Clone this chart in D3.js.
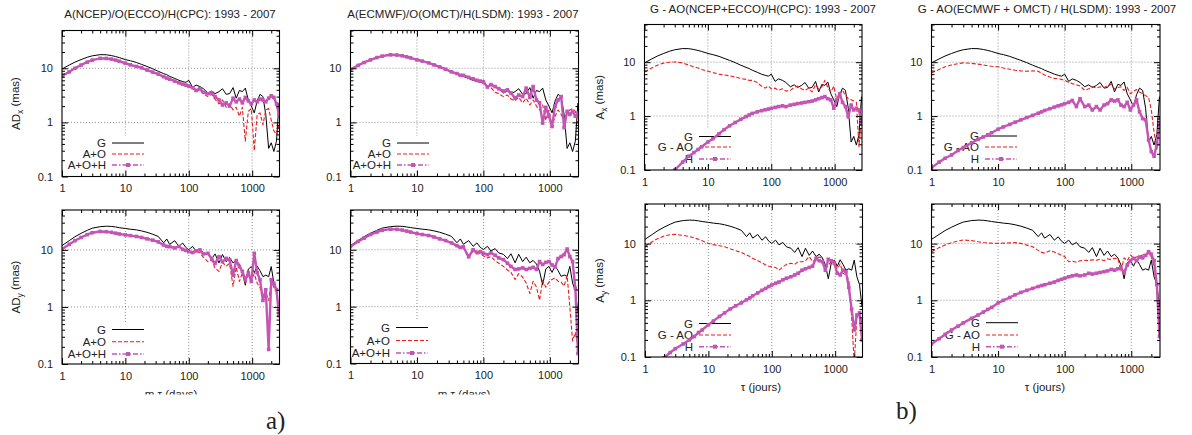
<!DOCTYPE html>
<html><head><meta charset="utf-8">
<script src="https://cdn.jsdelivr.net/npm/d3@7"></script>
<style>
body{margin:0;background:#fff}
svg{display:block}
text{font-family:"Liberation Sans",Arial,Helvetica,sans-serif;fill:#222}
</style>
</head><body>
<svg id="c" width="1192" height="435"></svg>
<script>
// ---------- DATA ----------
const tau = [1,1.3,1.6,2,2.5,3,4,5,6,7,8,10,12,15,18,22,27,33,40,45,50,60,70,80,90,100,115,130,150,170,200,230,260,300,340,390,440,500,560,630,700,780,870,970,1080,1200,1330,1480,1640,1820,2000,2200,2420,2650];
const xTicks = [1,10,100,1000];
const yTicks = [0.1,1,10];

const Gx = [9.7,11.5,13,14.5,16,17,17.9,17.8,17.2,16.5,
 15.8,14.5,13.8,12.8,11.8,10.8,9.8,8.8,8.0,7.6,
 7.1,6.5,6.0,5.7,5.5,6.0,4.4,4.9,4.6,4.2,
 3.5,3.8,3.4,3.7,4.2,3.3,3.4,4.4,2.8,3.9,
 3.7,4.3,2.6,2.0,1.5,2.5,3.3,3.0,1.4,0.33,
 0.42,0.29,0.45,2.3];
const Gy = [11.9,14.5,17,19.5,22,24,25.5,26,25.8,25.2,
 24.5,23.7,23,22.4,21.5,20.3,18.8,17.2,13.3,15.5,
 12.5,14.5,11.5,13.2,11.0,10.1,11.5,9.5,10.5,8.8,
 8.3,7.0,8.5,5.9,8.3,6.2,7.4,5.9,6.5,5.6,
 4.2,2.4,4.6,5.1,4.0,5.2,4.3,3.4,3.6,3.4,
 5.1,2.6,1.9,0.77];

// a) A(NCEP)/O(ECCO)/H(CPC)
const aoNcepX = [7.2,8.6,10,11.5,13,14.2,15.2,15.1,14.7,14.1,
 13.4,12.3,11.5,10.7,10.0,9.2,8.4,7.7,7.0,6.5,
 6.2,5.7,5.3,5.0,4.8,4.6,4.2,3.7,4.0,3.4,
 3.0,3.3,2.7,2.2,2.6,1.9,2.2,1.7,1.9,1.3,
 1.9,0.45,1.6,1.8,0.3,1.4,1.5,0.9,1.7,1.8,
 1.1,0.7,0.6,0.9];
const aohNcepX = [7.2,8.6,10,11.5,13,14.2,15.3,15.2,14.8,14.2,
 13.5,12.4,11.6,10.8,10.2,9.3,8.5,7.8,7.0,6.6,
 6.3,5.8,5.4,5.1,4.9,4.7,4.4,3.9,4.2,3.6,
 3.4,3.5,3.0,2.6,2.1,2.3,2.0,2.8,2.4,2.7,
 2.3,2.9,2.5,2.2,2.6,2.4,2.7,2.6,2.4,2.8,
 3.1,2.9,2.2,1.4];
const aoNcepY = [10.3,12.5,14.5,16.5,18.5,20,21,20.8,20.3,19.6,
 19,18.3,17.8,17.2,16.5,15.6,14.8,13.8,12.2,11.3,
 11.2,10.6,11.2,10.0,9.6,9.1,8.6,9.2,9.0,7.4,
 6.2,6.6,4.8,4.2,6.0,5.2,5.8,2.3,5.0,2.8,
 3.9,2.6,4.5,3.0,3.8,2.6,2.2,1.3,1.8,1.3,
 2.8,2.2,2.0,0.9];
const aohNcepY = [10.3,12.5,14.5,16.5,18.5,20,21,20.8,20.3,19.6,
 19,18.3,17.8,17.2,16.5,15.6,14.8,13.8,12.2,11.5,
 11.4,10.8,11.5,10.2,9.8,9.3,9.0,9.6,10.0,8.5,
 8.7,7.0,5.8,7.6,6.2,7.1,6.7,3.6,6.5,5.1,
 4.2,3.0,3.9,2.8,8.7,4.0,3.0,1.3,2.0,0.18,
 3.0,2.6,2.0,0.7];

// a) A(ECMWF)/O(OMCT)/H(LSDM)
const aoEcmwfX = [9.5,11.3,12.8,14.3,15.8,16.8,17.8,17.6,17.0,16.3,
 15.6,14.3,13.6,12.6,11.6,10.6,9.6,8.5,7.8,7.2,
 7.2,6.6,6.1,5.8,5.6,5.3,4.5,4.4,3.6,3.4,
 3.0,3.2,2.7,2.5,2.9,2.3,2.8,2.1,2.6,2.0,
 1.7,2.1,1.1,1.7,0.84,1.3,1.7,1.4,1.1,1.5,
 1.7,1.8,1.6,0.97];
const aohEcmwfX = [9.5,11.3,12.8,14.3,15.8,16.8,17.8,17.6,17.0,16.3,
 15.6,14.3,13.6,12.6,11.6,10.6,9.6,8.6,8.0,7.4,
 7.4,6.8,6.4,6.0,5.8,5.6,4.5,5.0,4.6,4.2,
 3.8,4.0,3.5,2.8,3.2,3.0,4.3,2.9,4.6,2.6,
 2.3,0.97,1.9,1.3,0.84,2.0,2.6,3.0,0.8,1.6,
 1.4,1.6,1.3,1.5];
const aoEcmwfY = [11.4,14,16,18.5,20.5,22,23,22.8,22.2,21.3,
 20.5,19.2,18.5,17.8,16.8,15.5,14.5,13.0,11.5,10.5,
 10.8,7.2,9.5,8.4,8.6,7.8,7.2,7.6,6.4,5.8,
 5.1,4.4,4.0,3.0,3.8,3.3,2.6,1.7,2.8,2.2,
 1.3,2.9,2.2,2.7,3.0,3.2,2.8,2.7,2.3,3.5,
 1.0,0.25,0.35,0.2];
const aohEcmwfY = [11.4,14,16,18.5,20.5,22,23,22.8,22.2,21.3,
 20.5,19.2,18.5,17.8,16.8,15.5,14.5,13.2,11.8,11.0,
 11.3,7.5,10.0,9.0,9.2,8.7,8.2,8.8,8.0,7.2,
 6.7,5.8,5.1,4.5,4.6,4.8,4.5,4.7,4.9,4.5,
 6.2,5.5,6.0,6.2,5.4,5.0,7.0,7.6,8.2,10.3,
 7.6,6.2,2.1,0.15];

// b) G - AO(NCEP+ECCO) / H(CPC)
const gaoNcepX = [6.6,7.8,8.8,9.6,10.0,10.1,9.7,8.8,8.2,7.8,
 7.3,6.8,6.4,6.0,5.8,5.6,5.3,5.0,4.8,4.6,
 4.6,4.2,3.6,3.3,3.6,3.2,3.3,3.0,3.2,2.9,
 3.0,3.4,3.6,3.2,3.0,3.3,2.8,3.8,3.2,3.5,
 4.6,3.4,2.8,3.6,2.0,2.5,3.0,2.4,2.1,2.0,
 1.9,1.8,0.27,1.0];
const hCpcX = [0.04,0.05,0.062,0.075,0.09,0.1,0.14,0.18,0.21,0.24,
 0.27,0.33,0.38,0.47,0.56,0.66,0.76,0.87,0.98,1.05,
 1.12,1.2,1.26,1.31,1.35,1.39,1.45,1.5,1.55,1.5,
 1.6,1.65,1.7,1.75,1.8,1.85,1.9,2.0,2.1,2.2,
 2.3,2.1,2.0,1.4,2.0,2.6,1.8,1.5,0.97,1.6,
 1.3,1.4,1.3,0.73];
const gaoNcepY = [8.9,10.8,12.3,13.6,14.4,14.6,14.0,13.3,12.6,11.9,
 11.2,10.1,9.6,9.2,8.8,8.1,7.5,7.0,6.3,5.9,
 5.5,5.0,4.6,4.2,4.0,3.9,3.8,3.4,3.9,4.3,
 4.5,4.3,4.8,4.8,5.0,5.9,4.8,5.4,5.8,5.5,
 3.4,4.2,4.8,5.1,3.6,4.4,3.0,2.8,2.3,0.5,
 0.08,0.5,0.6,0.4];
const hCpcY = [0.05,0.065,0.08,0.097,0.12,0.14,0.17,0.2,0.23,0.27,
 0.3,0.37,0.43,0.52,0.6,0.7,0.8,0.9,1.02,1.1,
 1.2,1.35,1.5,1.62,1.75,1.86,2.0,2.1,2.3,2.45,
 2.6,2.8,3.0,3.4,3.6,3.8,4.0,5.5,5.0,4.8,
 3.4,5.3,5.0,4.5,3.0,2.8,3.4,3.2,1.7,0.7,
 0.3,0.55,0.6,0.2];

// b) G - AO(ECMWF + OMCT) / H(LSDM)
const gaoEcmwfX = [6.3,7.3,8.2,8.9,9.4,9.7,9.5,9.2,8.9,8.6,
 8.4,8.2,7.8,7.4,7.1,6.9,6.8,6.9,6.8,6.2,
 5.8,5.3,5.0,4.9,4.8,4.6,4.2,4.0,3.8,3.6,
 3.0,3.2,3.5,3.3,3.5,3.4,3.6,3.9,3.2,3.4,
 3.5,3.0,3.4,2.6,2.9,3.1,2.8,2.6,2.4,2.2,
 1.3,0.5,0.23,1.0];
const hLsdmX = [0.11,0.14,0.165,0.19,0.23,0.26,0.32,0.37,0.41,0.45,
 0.49,0.57,0.63,0.7,0.77,0.85,0.94,1.03,1.13,1.2,
 1.27,1.37,1.47,1.55,1.62,1.7,1.8,1.95,1.5,2.1,
 1.5,1.6,1.3,1.5,1.3,1.6,1.7,2.0,1.9,2.0,
 1.6,1.5,1.8,1.3,1.6,2.0,1.2,0.9,0.85,0.36,
 0.22,0.18,0.3,0.73];
const gaoEcmwfY = [7.2,8.5,9.5,10.4,11.1,11.6,11.3,10.8,10.5,10.3,
 10.2,10.1,10.2,10.3,10.4,10.1,9.4,8.8,7.6,7.0,
 6.8,7.5,7.1,6.6,6.2,5.9,4.8,4.9,4.7,5.0,
 5.1,5.0,5.2,5.1,5.3,5.0,5.4,5.2,5.5,5.5,
 3.3,5.6,5.0,6.3,5.5,5.8,6.0,6.3,6.5,6.7,
 5.8,4.0,1.5,0.23];
const hLsdmY = [0.17,0.21,0.25,0.3,0.35,0.4,0.48,0.55,0.62,0.69,
 0.75,0.9,1.0,1.12,1.25,1.38,1.5,1.62,1.75,1.82,
 1.88,2.0,2.1,2.25,2.35,2.45,2.6,2.7,2.8,2.7,
 2.8,3.0,2.9,3.0,3.1,3.2,3.3,3.5,3.4,3.6,
 3.7,3.1,4.2,5.0,5.5,5.0,5.8,5.6,6.2,7.2,
 6.5,5.0,1.9,0.23];

const legendA = ["G","A+O","A+O+H"];
const legendB = ["G","G - AO","H"];

// ---------- LAYOUT ----------
const BLACK="#000", RED="#ee1c1c", PURPLE="#c455b5";
const panels = [
 {l:62,r:279.5,t:30.5,b:176.5, title:"A(NCEP)/O(ECCO)/H(CPC): 1993 - 2007", tx:170, ty:18,
  ylab:["AD","x"], ylx:16, series:[Gx,aoNcepX,aohNcepX], leg:legendA, lr:106, rows:[143,154,165]},
 {l:62,r:279.5,t:210,b:364, ylab:["AD","y"], ylx:16, series:[Gy,aoNcepY,aohNcepY], leg:legendA, lr:106, rows:[329.5,341.7,354],
  xlab:"m \u03c4 (days)", xlx:171, xly:398, xclip:394.5},
 {l:350.5,r:578.5,t:30.5,b:176.5, title:"A(ECMWF)/O(OMCT)/H(LSDM): 1993 - 2007", tx:463, ty:18,
  series:[Gx,aoEcmwfX,aohEcmwfX], leg:legendA, lr:391, rows:[143,154,165]},
 {l:350.5,r:578.5,t:210,b:363.5, series:[Gy,aoEcmwfY,aohEcmwfY], leg:legendA, lr:390, rows:[327.5,340.5,353],
  xlab:"m \u03c4 (days)", xlx:464, xly:398, xclip:394.5},
 {l:644.5,r:862,t:24.5,b:170, title:"G - AO(NCEP+ECCO)/H(CPC): 1993 - 2007", tx:763, ty:13,
  ylab:["A","x"], ylx:600, series:[Gx,gaoNcepX,hCpcX], leg:legendB, lr:693, rows:[136.5,147,159]},
 {l:645,r:862.5,t:204,b:357, ylab:["A","y"], ylx:600, series:[Gy,gaoNcepY,hCpcY], leg:legendB, lr:693, rows:[323.5,335,346.7],
  xlab:"\u03c4 (jours)", xlx:761, xly:391},
 {l:931.5,r:1160,t:24.5,b:170, title:"G - AO(ECMWF + OMCT) / H(LSDM): 1993 - 2007", tx:1047, ty:13,
  series:[Gx,gaoEcmwfX,hLsdmX], leg:legendB, lr:979, rows:[136,147,159]},
 {l:931.5,r:1160,t:204,b:357, series:[Gy,gaoEcmwfY,hLsdmY], leg:legendB, lr:980, rows:[322.7,335,346.7],
  xlab:"\u03c4 (jours)", xlx:1045, xly:391}
];

const svg = d3.select("#c");
const defs = svg.append("defs");
const xMinor = [], yMinor = [];
[1,10,100,1000].forEach(d=>{for(let k=2;k<=9;k++){if(d*k<=2700)xMinor.push(d*k);}});
[0.1,1,10].forEach(d=>{for(let k=2;k<=9;k++){if(d*k<=50)yMinor.push(+(d*k).toPrecision(3));}});

const styles = [
 {stroke:BLACK, width:1, dash:null},
 {stroke:RED, width:1.1, dash:"4,2"},
 {stroke:PURPLE, width:2.4, dash:null}
];

panels.forEach((p,i)=>{
  const x = d3.scaleLog().domain([1,2700]).range([p.l,p.r]);
  const y = d3.scaleLog().domain([0.1,50]).range([p.b,p.t]);
  const g = svg.append("g");
  defs.append("clipPath").attr("id","clip"+i).append("rect")
    .attr("x",p.l).attr("y",p.t).attr("width",p.r-p.l).attr("height",p.b-p.t);

  // grid
  const grid = g.append("g").attr("stroke","#777").attr("stroke-width",0.8).attr("stroke-dasharray","1,2");
  [10,100,1000].forEach(v=>grid.append("line").attr("x1",x(v)).attr("x2",x(v)).attr("y1",p.t).attr("y2",p.b));
  [1,10].forEach(v=>grid.append("line").attr("y1",y(v)).attr("y2",y(v)).attr("x1",p.l).attr("x2",p.r));

  // legend (opaque background)
  g.append("rect").attr("x",p.lr-44).attr("y",p.rows[0]-7).attr("width",86).attr("height",p.rows[2]-p.rows[0]+13).attr("fill","#fff");
  p.leg.forEach((name,k)=>{
    const yy = p.rows[k];
    g.append("text").attr("x",p.lr).attr("y",yy).attr("dy","0.35em").attr("text-anchor","end")
      .style("font-size","11.5px").text(name);
    const st = styles[k];
    g.append("line").attr("x1",p.lr+6).attr("x2",p.lr+38).attr("y1",yy).attr("y2",yy)
      .attr("stroke",st.stroke).attr("stroke-width",k===2?1.4:st.width)
      .attr("stroke-dasharray",k===1?"4,2":(k===2?"5,2,1.5,2":null));
    if(k===2) g.append("rect").attr("x",p.lr+22-2).attr("y",yy-2).attr("width",4).attr("height",4).attr("fill",PURPLE);
  });

  // data
  const dg = g.append("g").attr("clip-path",`url(#clip${i})`);
  const line = d3.line().x(d=>x(d[0])).y(d=>y(d[1]));
  p.series.forEach((vals,k)=>{
    const pts = tau.map((t,j)=>[t,vals[j]]);
    const st = styles[k];
    dg.append("path").attr("d",line(pts)).attr("fill","none")
      .attr("stroke",st.stroke).attr("stroke-width",st.width)
      .attr("stroke-dasharray",st.dash).attr("stroke-linejoin","round");
    if(k===2){
      dg.selectAll(null).data(pts).enter().append("rect")
        .attr("x",d=>x(d[0])-1.8).attr("y",d=>y(d[1])-1.8).attr("width",3.6).attr("height",3.6).attr("fill",PURPLE);
    }
  });

  // axes
  const fmt = d3.format("");
  const styleAxis = sel=>{sel.select(".domain").remove(); sel.selectAll("line").attr("stroke","#000");
    sel.selectAll("text").attr("fill","#222").style("font-size","11px").style("font-family",'"Liberation Sans",Arial,sans-serif');};
  g.append("g").attr("transform",`translate(0,${p.b})`)
    .call(d3.axisBottom(x).tickValues(xTicks).tickSize(-6).tickPadding(8).tickFormat(fmt)).call(styleAxis);
  g.append("g").attr("transform",`translate(0,${p.b})`)
    .call(d3.axisBottom(x).tickValues(xMinor).tickSize(-3).tickFormat(()=>"")).call(styleAxis);
  g.append("g").attr("transform",`translate(0,${p.t})`)
    .call(d3.axisTop(x).tickValues(xTicks).tickSize(-6).tickFormat(()=>"")).call(styleAxis);
  g.append("g").attr("transform",`translate(0,${p.t})`)
    .call(d3.axisTop(x).tickValues(xMinor).tickSize(-3).tickFormat(()=>"")).call(styleAxis);
  g.append("g").attr("transform",`translate(${p.l},0)`)
    .call(d3.axisLeft(y).tickValues(yTicks).tickSize(-6).tickPadding(9).tickFormat(fmt)).call(styleAxis);
  g.append("g").attr("transform",`translate(${p.l},0)`)
    .call(d3.axisLeft(y).tickValues(yMinor).tickSize(-3).tickFormat(()=>"")).call(styleAxis);
  g.append("g").attr("transform",`translate(${p.r},0)`)
    .call(d3.axisRight(y).tickValues(yTicks).tickSize(-6).tickFormat(()=>"")).call(styleAxis);
  g.append("g").attr("transform",`translate(${p.r},0)`)
    .call(d3.axisRight(y).tickValues(yMinor).tickSize(-3).tickFormat(()=>"")).call(styleAxis);

  g.append("rect").attr("x",p.l).attr("y",p.t).attr("width",p.r-p.l).attr("height",p.b-p.t)
    .attr("fill","none").attr("stroke","#000").attr("stroke-width",1.1);

  if(p.title) g.append("text").attr("x",p.tx).attr("y",p.ty).attr("text-anchor","middle")
    .style("font-size","11.5px").text(p.title);
  if(p.ylab){
    const t = g.append("text").attr("transform",`translate(${p.ylx},${(p.t+p.b)/2}) rotate(-90)`)
      .attr("text-anchor","middle").attr("dy","0.35em").style("font-size","11.5px");
    t.append("tspan").text(p.ylab[0]);
    t.append("tspan").attr("dy","0.3em").style("font-size","8.5px").text(p.ylab[1]);
    t.append("tspan").attr("dy","-0.3em").text(" (mas)");
  }
  if(p.xlab){
    const tx = g.append("text").attr("x",p.xlx).attr("y",p.xly).attr("text-anchor","middle")
      .style("font-size","11.5px").text(p.xlab);
    if(p.xclip){
      defs.append("clipPath").attr("id","xc"+i).append("rect").attr("x",p.xlx-60).attr("y",p.xclip-20).attr("width",120).attr("height",20);
      tx.attr("clip-path",`url(#xc${i})`);
    }
  }
});

svg.append("text").attr("x",266).attr("y",429).style("font-family",'"Liberation Serif","DejaVu Serif",serif')
  .style("font-size","25px").attr("fill","#111").text("a)");
svg.append("text").attr("x",896).attr("y",419).style("font-family",'"Liberation Serif","DejaVu Serif",serif')
  .style("font-size","25px").attr("fill","#111").text("b)");
</script>
</body></html>
